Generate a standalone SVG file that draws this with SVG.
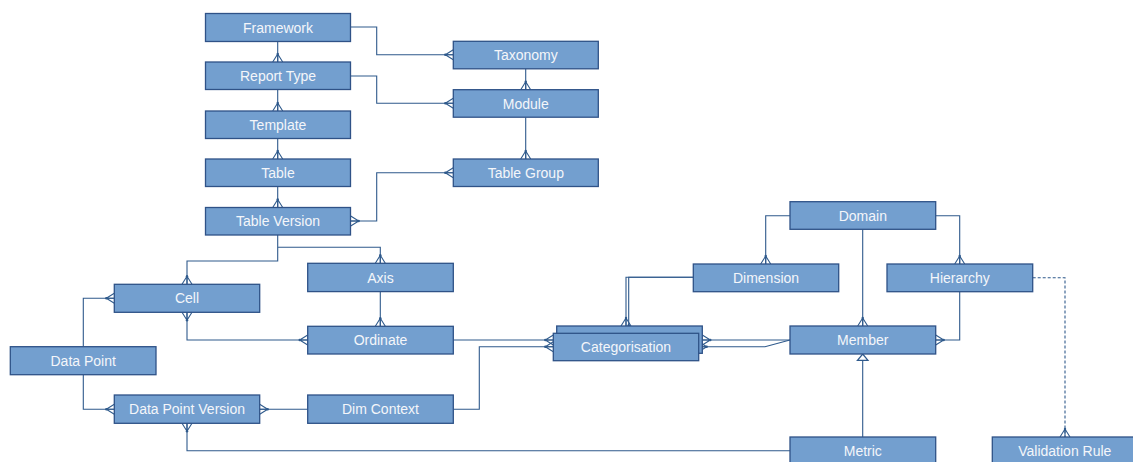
<svg xmlns="http://www.w3.org/2000/svg" width="1133" height="462" viewBox="0 0 1133 462">
<style>
.box{fill:#739fcf;stroke:#2f5287;stroke-width:1.3}
.lbl{font-family:"Liberation Sans",Arial,sans-serif;font-size:14px;fill:#f4f6fa;text-anchor:middle}
.c{fill:none;stroke:#2f5a8c;stroke-width:1.1}
.cf{marker-end:url(#crow)}
.cs{marker-start:url(#crow)}
.dash{stroke-dasharray:3 2}
</style>
<defs>
<marker id="crow" markerUnits="userSpaceOnUse" markerWidth="14" markerHeight="14" viewBox="-11 -7 14 14" refX="0" refY="0" orient="auto-start-reverse" overflow="visible">
<path d="M-8,0 L0,-5 M-8,0 L0,0 M-8,0 L0,5" fill="none" stroke="#2f5a8c" stroke-width="1.1"/>
<circle cx="-8" cy="0" r="1.2" fill="#2f5a8c"/>
</marker>
<marker id="tri" markerUnits="userSpaceOnUse" markerWidth="14" markerHeight="14" viewBox="-8 -6 10 12" refX="0" refY="0" orient="auto" overflow="visible">
<path d="M-5.5,-4.5 L0,0 L-5.5,4.5 Z" fill="#fff" stroke="#2f5a8c" stroke-width="1.1"/>
</marker>
</defs>
<rect width="1133" height="462" fill="#fff"/>
<g id="connectors">
<path class="c cf" d="M277.7,41.5 V62"/>
<path class="c cf" d="M277.7,89.5 V111"/>
<path class="c cf" d="M277.7,138.5 V159"/>
<path class="c cf" d="M277.7,186.5 V207.5"/>
<path class="c cf" d="M350.7,27 H376.7 V54.7 H453.3"/>
<path class="c cf" d="M350.7,76 H376.7 V103.3 H453.3"/>
<path class="c cf" d="M525.7,68.7 V89.7"/>
<path class="c cf" d="M525.7,117.3 V159"/>
<path class="c cf cs" d="M453.3,172.7 H376.7 V221 H350.7"/>
<path class="c cf" d="M277.7,234.7 V247.3 H380.3 V263.3"/>
<path class="c cf" d="M277.7,247.3 V261 H187 V284.3"/>
<path class="c cf" d="M380.3,291.7 V326.3"/>
<path class="c cf cs" d="M187,312.3 V340 H307.7"/>
<path class="c cf" d="M83.3,346.7 V298.3 H114.3"/>
<path class="c cf" d="M83.3,374.7 V409.3 H114.3"/>
<path class="c cf" d="M307.7,409.3 H259.7"/>
<path class="c cf" d="M790,450.7 H187 V423.3"/>
<path class="c cf" d="M453.3,340 H553.3"/>
<path class="c cf" d="M453.3,409.3 H479.3 V346.7 H553.3"/>
<path class="c cf" d="M693.3,277.3 H626 V326"/>
<path class="c cf" d="M693.3,277.3 H628.7 V333.3"/>
<path class="c cf" d="M790,340 H702.3"/>
<path class="c cf" d="M790,340 L765,346.7 H698.7"/>
<path class="c cf" d="M790,215.7 H765.7 V264"/>
<path class="c cf" d="M935.7,215.7 H959.7 V264"/>
<path class="c cf" d="M862.7,229.3 V326"/>
<path class="c cf" d="M959.7,291.7 V340 H935.7"/>
<path class="c cf dash" d="M1032.7,277.7 H1065 V437"/>
<path class="c" d="M862.7,437 V354" marker-end="url(#tri)"/>
</g>
<g id="framework"><rect class="box" x="205.5" y="13.5" width="145" height="28"/><text class="lbl" x="278" y="32.5">Framework</text></g>
<g id="report-type"><rect class="box" x="205.5" y="62" width="145" height="27.5"/><text class="lbl" x="278" y="80.8">Report Type</text></g>
<g id="template"><rect class="box" x="205.5" y="111" width="145" height="27.5"/><text class="lbl" x="278" y="129.8">Template</text></g>
<g id="table"><rect class="box" x="205.5" y="159" width="145" height="27.5"/><text class="lbl" x="278" y="177.8">Table</text></g>
<g id="table-version"><rect class="box" x="205.5" y="207.5" width="145" height="27.5"/><text class="lbl" x="278" y="226.3">Table Version</text></g>
<g id="taxonomy"><rect class="box" x="453.3" y="41.3" width="145" height="27.5"/><text class="lbl" x="525.8" y="60.1">Taxonomy</text></g>
<g id="module"><rect class="box" x="453.3" y="89.7" width="145" height="27.5"/><text class="lbl" x="525.8" y="108.5">Module</text></g>
<g id="table-group"><rect class="box" x="453.3" y="159" width="145" height="27.5"/><text class="lbl" x="525.8" y="177.8">Table Group</text></g>
<g id="axis"><rect class="box" x="307.7" y="263.3" width="145.6" height="28.3"/><text class="lbl" x="380.5" y="282.5">Axis</text></g>
<g id="cell"><rect class="box" x="114.3" y="284.3" width="145.4" height="28"/><text class="lbl" x="187" y="303.3">Cell</text></g>
<g id="ordinate"><rect class="box" x="307.7" y="326.3" width="145.6" height="27.7"/><text class="lbl" x="380.5" y="345.2">Ordinate</text></g>
<g id="data-point"><rect class="box" x="10.3" y="346.7" width="145.7" height="28"/><text class="lbl" x="83.2" y="365.7">Data Point</text></g>
<g id="data-point-version"><rect class="box" x="114.3" y="395" width="145.4" height="28.3"/><text class="lbl" x="187" y="414.2">Data Point Version</text></g>
<g id="dim-context"><rect class="box" x="307.7" y="395" width="145.6" height="28.3"/><text class="lbl" x="380.5" y="414.2">Dim Context</text></g>
<g id="categorisation"><rect class="box" x="556.7" y="326" width="145.6" height="27.3"/><rect class="box" x="553.3" y="333.3" width="145.4" height="27.4"/><text class="lbl" x="626" y="352">Categorisation</text></g>
<g id="dimension"><rect class="box" x="693.3" y="264" width="145.4" height="27.7"/><text class="lbl" x="766" y="282.9">Dimension</text></g>
<g id="domain"><rect class="box" x="790" y="201.7" width="145.7" height="27.6"/><text class="lbl" x="862.8" y="220.5">Domain</text></g>
<g id="hierarchy"><rect class="box" x="887" y="264" width="145.7" height="27.7"/><text class="lbl" x="959.8" y="282.9">Hierarchy</text></g>
<g id="member"><rect class="box" x="790" y="326" width="145.7" height="28"/><text class="lbl" x="862.8" y="345">Member</text></g>
<g id="metric"><rect class="box" x="790" y="437" width="145.7" height="30"/><text class="lbl" x="862.8" y="456">Metric</text></g>
<g id="validation-rule"><rect class="box" x="992.3" y="437" width="145" height="30"/><text class="lbl" x="1064.8" y="456">Validation Rule</text></g>
</svg>
